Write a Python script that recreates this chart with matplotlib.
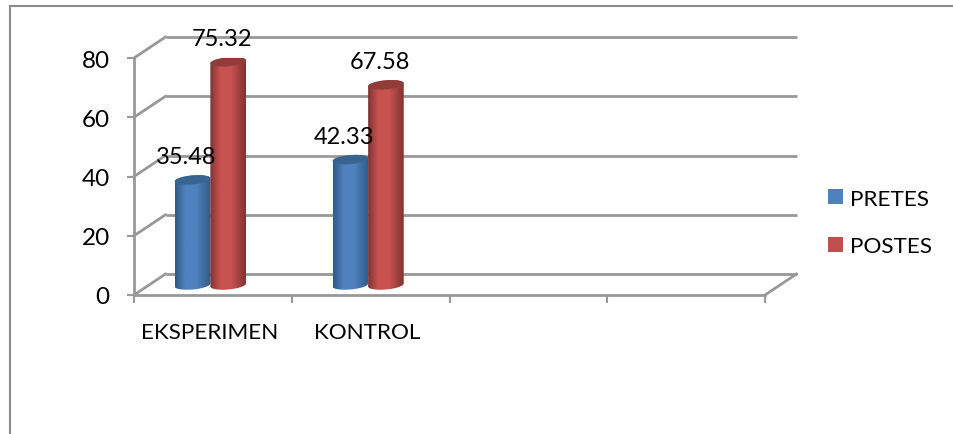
import numpy as np
import matplotlib
matplotlib.use("Agg")
import matplotlib.pyplot as plt
from matplotlib.lines import Line2D
from matplotlib.patches import Patch, PathPatch
from matplotlib.path import Path
from matplotlib.colors import LinearSegmentedColormap

categories = ["EKSPERIMEN", "KONTROL"]
series_names = ["PRETES", "POSTES"]
pretes = [35.48, 42.33]
postes = [75.32, 67.58]
value_ticks = [0, 20, 40, 60, 80]
slots = 4

plt.rcParams["font.family"] = ["Lato", "DejaVu Sans"]

W, H = 954, 435
fig = plt.figure(figsize=(W / 100, H / 100), dpi=100, facecolor="white")

# Axes span the front plane of the 3D-style chart box
left, right, top, bottom = 134, 765, 59, 296
ax = fig.add_axes([left / W, 1 - bottom / H, (right - left) / W, (bottom - top) / H])
ax.set_facecolor("none")

px_x = slots / (right - left)
px_y = 80 / (bottom - top)
depth_x = 31.5 * px_x
depth_y = 21 * px_y
GREY = "#989898"

# Outer chart frame: only the top and left edges are visible
fig.add_artist(Line2D([10.5 / W, 10.5 / W], [0, 1 - 6.5 / H], color="#8c8c8c", lw=1.5))
fig.add_artist(Line2D([10 / W, 1], [1 - 6.5 / H, 1 - 6.5 / H], color="#8c8c8c", lw=1.5))

# Back wall gridlines and floor/side diagonals
for v in value_ticks:
    ax.plot([depth_x, slots + depth_x], [v + depth_y] * 2, color=GREY, lw=2,
            clip_on=False, zorder=1, solid_capstyle="butt")
    ax.plot([0, depth_x], [v, v + depth_y], color=GREY, lw=2, clip_on=False, zorder=1)
ax.plot([slots, slots + depth_x], [0, depth_y], color=GREY, lw=2, clip_on=False, zorder=1)


def cylinder_outline(xc, half_w, base, height, rx_y, tilt):
    t = np.linspace(np.pi, 2 * np.pi, 40)
    bx = xc + half_w * np.cos(t)
    by = base + rx_y * np.sin(t) + tilt * np.cos(t)
    tt = np.linspace(0, np.pi, 40)
    tx = xc + half_w * np.cos(tt)
    ty = base + height + rx_y * np.sin(tt) + tilt * np.cos(tt)
    return np.r_[bx, tx], np.r_[by, ty]


def draw_cylinder(xc, value, half_w, edge, mid, cap, z):
    base = 10 * px_y
    rx_y = 4.5 * px_y
    tilt = 1.5 * px_y
    xs, ys = cylinder_outline(xc, half_w, base, value, rx_y, tilt)
    cmap = LinearSegmentedColormap.from_list(
        "shade", [(0, edge), (0.28, mid), (0.6, mid), (1, edge)])
    img = ax.imshow(np.linspace(0, 1, 128)[None, :], cmap=cmap, aspect="auto",
                    extent=(xc - half_w, xc + half_w, base - 2 * rx_y, base + value + 2 * rx_y),
                    zorder=z, interpolation="bilinear")
    clip = PathPatch(Path(np.c_[xs, ys]), transform=ax.transData, fc="none", ec="none")
    ax.add_patch(clip)
    img.set_clip_path(clip)
    t = np.linspace(0, 2 * np.pi, 80)
    ax.fill(xc + half_w * np.cos(t),
            base + value + rx_y * np.sin(t) + tilt * np.cos(t),
            color=cap, zorder=z + 0.1, lw=0)
    return base + value


half_w = 17.8 * px_x
for i in range(len(categories)):
    centre = i + 0.5 - 2.5 * px_x
    for j, (vals, edge, mid, cap) in enumerate([
        (pretes, "#2f5a87", "#4f81bd", "#38648f"),
        (postes, "#7f3331", "#c8524f", "#8f3c3a"),
    ]):
        xc = centre + (2 * j - 1) * half_w
        tip = draw_cylinder(xc, vals[i], half_w, edge, mid, cap, 3 + j)
        ax.annotate(f"{vals[i]:.2f}", (xc, tip), xytext=(-4.3, 16.6),
                    textcoords="offset points", ha="center", va="center",
                    fontsize=17, color="black", zorder=8, annotation_clip=False)

ax.set_xlim(0, slots)
ax.set_ylim(0, 80)

for side in ("top", "right"):
    ax.spines[side].set_visible(False)
for side in ("left", "bottom"):
    ax.spines[side].set_color(GREY)
    ax.spines[side].set_linewidth(2)
ax.spines["bottom"].set_zorder(2)

ax.set_yticks(value_ticks)
ax.set_yticklabels([str(v) for v in value_ticks], fontsize=17.5)
ax.tick_params(axis="y", length=5, width=1.5, color=GREY, pad=12.5)
ax.set_xticks(range(slots + 1))
ax.set_xticklabels([])
ax.tick_params(axis="x", length=5.5, width=1.5, color=GREY)

for i, name in enumerate(categories):
    ax.annotate(name, (i + 0.5 - 3.5 * px_x, 0), xytext=(0, -26.5), textcoords="offset points",
                ha="center", va="center", fontsize=16.2, color="black", annotation_clip=False)

handles = [Patch(fc="#4f81bd", ec="none"), Patch(fc="#c0504d", ec="none")]
fig.legend(handles, series_names, loc="center left",
           bbox_to_anchor=(821.5 / W, 1 - 223.5 / H), frameon=False, fontsize=16.2,
           handlelength=0.67, handleheight=0.67, handletextpad=0.3, labelspacing=1.23,
           borderpad=0.0, borderaxespad=0.3)

fig.savefig("out.png", dpi=100, facecolor="white")
